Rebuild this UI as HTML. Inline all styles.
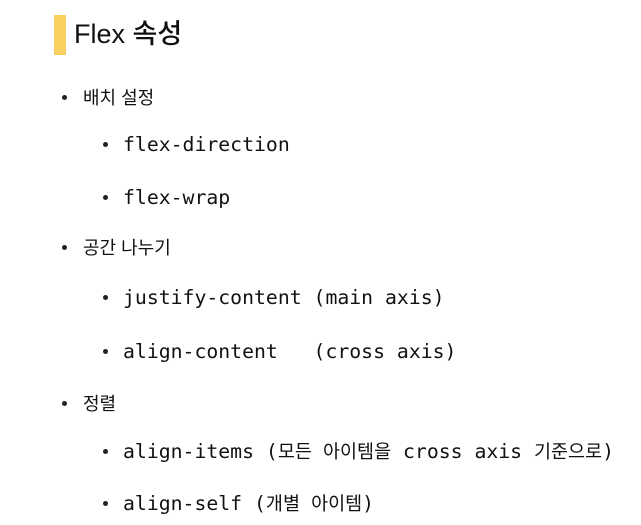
<!DOCTYPE html>
<html><head><meta charset="utf-8"><style>
body{margin:0;width:641px;height:525px;background:#fff;position:relative;overflow:hidden;font-family:"Liberation Sans","Noto Sans CJK KR",sans-serif;color:#111}
.bar{position:absolute;left:54px;top:15px;width:12px;height:40px;background:#f8d160}
.t{position:absolute;left:74px;top:14px;font-size:27px;line-height:40px;font-weight:500}
.l{position:absolute;white-space:pre;line-height:24px}
.k{font-size:18px;left:83px}
.m{font-family:"DejaVu Sans Mono","Noto Sans CJK KR",monospace;font-size:19.8px;left:123px}
.m span{font-size:18.5px}
.d{position:absolute;width:5px;height:5px;border-radius:50%;background:#222}
</style></head><body>
<div class="bar"></div><div class="t">Flex 속성</div>
<div class="d" style="left:62px;top:95px"></div><div class="l k" style="top:86px">배치 설정</div>
<div class="d" style="left:103px;top:142px"></div><div class="l m" style="top:133px">flex-direction</div>
<div class="d" style="left:103px;top:195px"></div><div class="l m" style="top:186px">flex-wrap</div>
<div class="d" style="left:62px;top:245px"></div><div class="l k" style="top:236px">공간 나누기</div>
<div class="d" style="left:103px;top:295px"></div><div class="l m" style="top:286px">justify-content (main axis)</div>
<div class="d" style="left:103px;top:349px"></div><div class="l m" style="top:340px">align-content   (cross axis)</div>
<div class="d" style="left:62px;top:401px"></div><div class="l k" style="top:392px">정렬</div>
<div class="d" style="left:103px;top:449px"></div><div class="l m" style="top:440px">align-items (<span>모든 아이템을</span> cross axis <span>기준으로</span>)</div>
<div class="d" style="left:103px;top:501px"></div><div class="l m" style="top:492px">align-self (<span>개별 아이템</span>)</div>
</body></html>
